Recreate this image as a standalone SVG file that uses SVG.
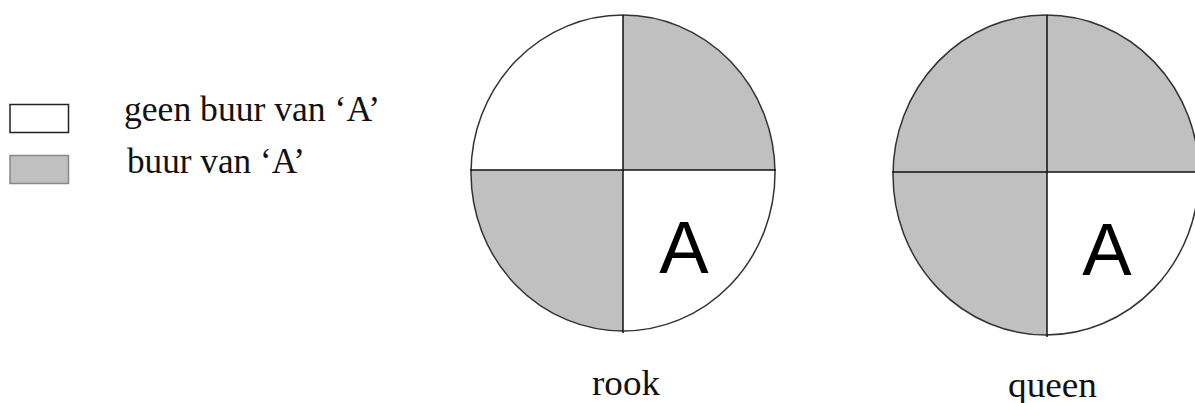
<svg xmlns="http://www.w3.org/2000/svg" width="1195" height="403" viewBox="0 0 1195 403">
<style>
.lbl{font-family:"Liberation Serif","Times New Roman",serif;fill:#111;}
.big{font-family:"Liberation Sans",Arial,sans-serif;font-size:74px;fill:#000;text-anchor:middle;}
.g{fill:#c0c0c0;}
.w{fill:#fff;}
.rim{fill:none;stroke:#333;stroke-width:1.5;}
.ax{stroke:#111;stroke-width:1.5;fill:none;}
</style>
<defs>
<clipPath id="c1"><ellipse cx="623" cy="173" rx="152" ry="158"/></clipPath>
<clipPath id="c2"><ellipse cx="1046" cy="175" rx="153" ry="160"/></clipPath>
</defs>
<rect width="1195" height="403" fill="#fff"/>
<g id="legend">
<rect x="10" y="104.5" width="58.5" height="28" fill="#fff" stroke="#222" stroke-width="1.5"/>
<rect x="10" y="155.5" width="58.5" height="28" class="g" stroke="#888" stroke-width="1.5"/>
<text class="lbl" x="124" y="121" font-size="35" textLength="256" lengthAdjust="spacingAndGlyphs">geen buur van ‘A’</text>
<text class="lbl" x="127" y="173" font-size="35" textLength="178" lengthAdjust="spacingAndGlyphs">buur van ‘A’</text>
</g>
<g id="rook">
<g clip-path="url(#c1)">
<rect x="460" y="0" width="163" height="170" class="w"/>
<rect x="623" y="0" width="170" height="170" class="g"/>
<rect x="460" y="170" width="163" height="180" class="g"/>
<rect x="623" y="170" width="170" height="180" class="w"/>
</g>
<ellipse class="rim" cx="623" cy="173" rx="152" ry="158"/>
<line class="ax" x1="623" y1="15" x2="623" y2="333"/>
<line class="ax" x1="470" y1="170" x2="776" y2="170"/>
<text class="big" x="684" y="273">A</text>
<text class="lbl" x="592" y="395" font-size="35" textLength="68" lengthAdjust="spacingAndGlyphs">rook</text>
</g>
<g id="queen">
<g clip-path="url(#c2)">
<rect x="880" y="0" width="320" height="172" class="g"/>
<rect x="880" y="172" width="167" height="180" class="g"/>
<rect x="1047" y="172" width="160" height="180" class="w"/>
</g>
<ellipse class="rim" cx="1046" cy="175" rx="153" ry="160"/>
<line class="ax" x1="1047" y1="15" x2="1047" y2="337"/>
<line class="ax" x1="892" y1="172" x2="1195" y2="172"/>
<text class="big" x="1107" y="275">A</text>
<text class="lbl" x="1008" y="397" font-size="35" textLength="89" lengthAdjust="spacingAndGlyphs">queen</text>
</g>
</svg>
